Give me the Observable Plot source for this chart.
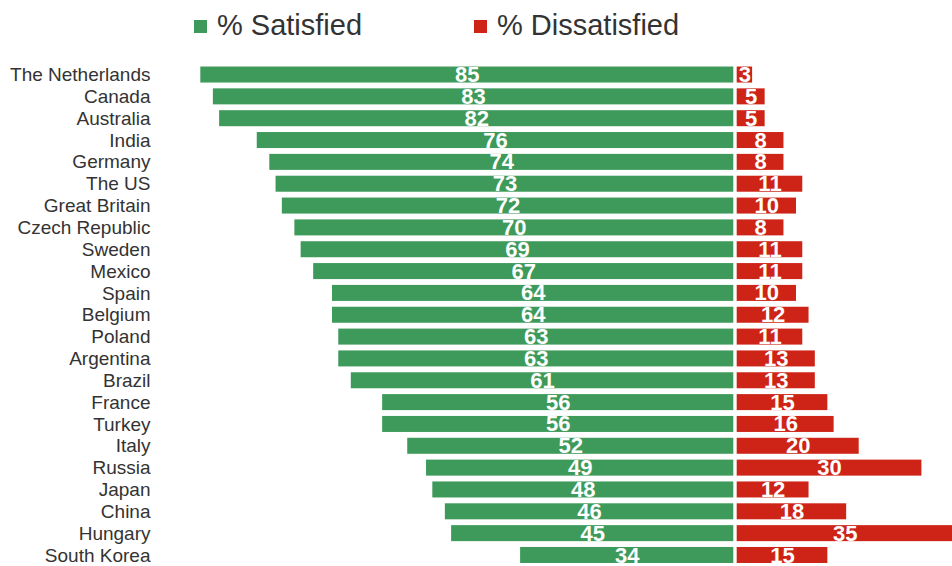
<!DOCTYPE html>
<html>
<head>
<meta charset="utf-8">
<script src="https://cdn.jsdelivr.net/npm/d3@7"></script>
<script src="https://cdn.jsdelivr.net/npm/@observablehq/plot@0.6"></script>
<style>
  html, body { margin: 0; padding: 0; background: #fff; }
  #wrap { width: 952px; font-family: "Liberation Sans", Arial, sans-serif; }
  #legend { position: relative; height: 50px; width: 952px; }
  #legend .sw { position: absolute; top: 20px; width: 13px; height: 13px; }
  #legend .lb { position: absolute; top: 8px; font-size: 29px; line-height: 34px; color: #333; white-space: nowrap; }
  svg { display: block; }
</style>
</head>
<body>
<div id="wrap">
  <div id="legend">
    <div class="sw" style="left:194px;background:#3d9a5a"></div>
    <div class="lb" style="left:217px">% Satisfied</div>
    <div class="sw" style="left:474px;background:#cd2417"></div>
    <div class="lb" style="left:497px">% Dissatisfied</div>
  </div>
  <div id="chart"></div>
</div>
<script>
const countries = ["The Netherlands","Canada","Australia","India","Germany","The US","Great Britain","Czech Republic","Sweden","Mexico","Spain","Belgium","Poland","Argentina","Brazil","France","Turkey","Italy","Russia","Japan","China","Hungary","South Korea"];
const satisfied = [85,83,82,76,74,73,72,70,69,67,64,64,63,63,61,56,56,52,49,48,46,45,34];
const dissatisfied = [3,5,5,8,8,11,10,8,11,11,10,12,11,13,13,15,16,20,30,12,18,35,15];

const green = "#3d9a5a";
const red = "#cd2417";

const data = countries.map((c, i) => ({country: c, sat: satisfied[i], dis: dissatisfied[i]}));

const chart = Plot.plot({
  width: 952,
  height: 516,
  marginLeft: 160,
  marginRight: 0,
  marginTop: 0,
  marginBottom: 0,
  style: {fontFamily: "'Liberation Sans', Arial, sans-serif", background: "#fff"},
  x: {domain: [-91.43, 34.88], axis: null},
  y: {domain: countries, range: [5.6, 523.9], paddingInner: 0.267, paddingOuter: 0.5, align: 0.5, round: false},
  marks: [
    Plot.barX(data, {y: "country", x1: d => -d.sat, x2: 0, fill: green}),
    Plot.barX(data, {y: "country", x1: 0, x2: d => d.dis, fill: red, insetLeft: 3.4}),
    Plot.text(data, {y: "country", x: d => -d.sat / 2, text: d => String(d.sat), fill: "white", fontSize: 22, fontWeight: "bold", textAnchor: "middle"}),
    Plot.text(data, {y: "country", x: d => d.dis / 2, dx: 1.7, text: d => String(d.dis), fill: "white", fontSize: 22, fontWeight: "bold", textAnchor: "middle"}),
    Plot.axisY({tickSize: 0, tickPadding: 10, fontSize: 19, color: "#333", label: null})
  ]
});
document.getElementById("chart").appendChild(chart);
</script>
</body>
</html>
